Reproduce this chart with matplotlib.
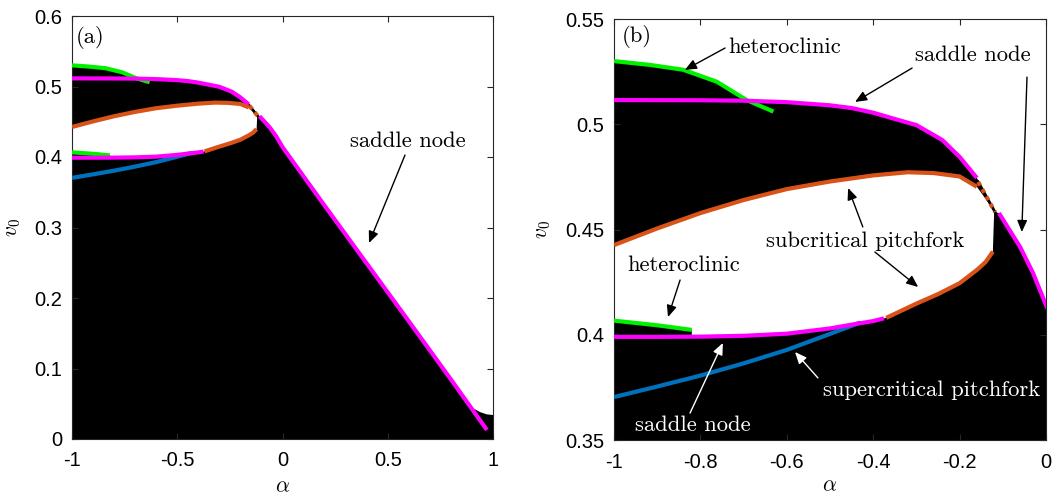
import numpy as np
import matplotlib
matplotlib.use("Agg")
import matplotlib.pyplot as plt

plt.rcParams['mathtext.fontset'] = 'cm'
plt.rcParams['font.family'] = ['Liberation Sans', 'DejaVu Sans']

# ---------------- data ----------------
green_top_x = [-1.0, -0.917, -0.84, -0.762, -0.693, -0.631]
green_top_y = [0.5300, 0.5282, 0.5259, 0.5202, 0.5115, 0.5060]

magenta_top_x = [-1.0, -0.8, -0.7, -0.6, -0.5, -0.45, -0.4, -0.35, -0.3, -0.24, -0.2, -0.16]
magenta_top_y = [0.5115, 0.5114, 0.5112, 0.5105, 0.5090, 0.5077, 0.5055, 0.5025, 0.4996, 0.4925, 0.4845, 0.4745]

orange_up_x = [-1.0, -0.9, -0.8, -0.7, -0.6, -0.5, -0.4, -0.32, -0.26, -0.2, -0.16]
orange_up_y = [0.4426, 0.4505, 0.4578, 0.4640, 0.4692, 0.4728, 0.4757, 0.4772, 0.4768, 0.4752, 0.4703]

dotted_x = [-0.157, -0.118]
dotted_y = [0.4726, 0.4583]

orange_low_x = [-0.37, -0.3, -0.25, -0.2, -0.16, -0.14, -0.123]
orange_low_y = [0.4080, 0.4148, 0.4193, 0.4245, 0.4308, 0.4345, 0.4395]

magenta_low_x = [-1.0, -0.9, -0.8, -0.7, -0.6, -0.5, -0.45, -0.4, -0.375]
magenta_low_y = [0.3990, 0.3990, 0.3991, 0.3995, 0.4005, 0.4030, 0.4048, 0.4065, 0.4078]

blue_x = [-1.0, -0.9, -0.8, -0.7, -0.6, -0.5, -0.43]
blue_y = [0.3704, 0.3754, 0.3806, 0.3864, 0.3928, 0.4004, 0.4058]

green_low_x = [-1.0, -0.9, -0.82]
green_low_y = [0.4067, 0.4045, 0.4023]

magenta_right_x = [-0.109, -0.06, -0.03, 0.0, 0.2, 0.4, 0.6, 0.8, 0.971]
magenta_right_y = [0.4578, 0.4417, 0.4293, 0.4141, 0.3310, 0.2490, 0.1670, 0.0845, 0.0128]

cap_x = [0.89, 0.94, 0.97, 1.0]
cap_y = [0.046, 0.038, 0.035, 0.034]

# tick labels
a_xticks = [-1, -0.5, 0, 0.5, 1]
a_xlabels = ['-1', '-0.5', '0', '0.5', '1']
a_yticks = [0, 0.1, 0.2, 0.3, 0.4, 0.5, 0.6]
a_ylabels = ['0', '0.1', '0.2', '0.3', '0.4', '0.5', '0.6']
b_xticks = [-1, -0.8, -0.6, -0.4, -0.2, 0]
b_xlabels = ['-1', '-0.8', '-0.6', '-0.4', '-0.2', '0']
b_yticks = [0.35, 0.4, 0.45, 0.5, 0.55]
b_ylabels = ['0.35', '0.4', '0.45', '0.5', '0.55']

MAG = '#FF00FF'
GRN = '#00F000'
ORG = '#D95319'
BLU = '#0072BD'
LW = 3.0

# ---------------- build black regions ----------------
xs = np.linspace(-1.0, -0.16, 300)
upper = np.maximum(np.interp(xs, green_top_x, green_top_y, right=-1.0),
                   np.interp(xs, magenta_top_x, magenta_top_y))
top_poly_x = np.concatenate([xs, dotted_x[1:], orange_up_x[::-1]])
top_poly_y = np.concatenate([upper, dotted_y[1:], orange_up_y[::-1]])

mlx = np.array(magenta_low_x); mly = np.array(magenta_low_y)
mrx = np.array(magenta_right_x); mry = np.array(magenta_right_y)
low_poly_x = np.concatenate([[-1.0], green_low_x,
                             [-0.82], mlx[mlx > -0.82],
                             orange_low_x, [-0.12],
                             mrx[mrx < 0.89], cap_x, [1.0, -1.0]])
low_poly_y = np.concatenate([[0.0], green_low_y,
                             [np.interp(-0.82, mlx, mly)], mly[mlx > -0.82],
                             orange_low_y, [0.4583],
                             mry[mrx < 0.89], cap_y, [0.0, 0.0]])

fig = plt.figure(figsize=(10.53, 4.97), dpi=100)
ax1 = fig.add_axes([72/1053, 1-439/497, 421/1053, 423/497])
ax2 = fig.add_axes([614/1053, 1-440/497, 432/1053, 421/497])


def draw(ax):
    ax.fill(top_poly_x, top_poly_y, color='black', lw=0, zorder=1)
    ax.fill(low_poly_x, low_poly_y, color='black', lw=0, zorder=1)
    ax.plot(green_top_x, green_top_y, color=GRN, lw=LW, zorder=3, solid_capstyle='butt')
    ax.plot(magenta_top_x, magenta_top_y, color=MAG, lw=LW, zorder=3, solid_capstyle='butt')
    ax.plot(orange_up_x, orange_up_y, color=ORG, lw=LW, zorder=3, solid_capstyle='butt')
    ax.plot(dotted_x, dotted_y, color='black', lw=2, zorder=2)
    ax.plot(dotted_x, dotted_y, color=ORG, lw=LW, ls=(0, (1, 1)), zorder=3)
    ax.plot(orange_low_x, orange_low_y, color=ORG, lw=LW, zorder=3, solid_capstyle='butt')
    ax.plot(blue_x, blue_y, color=BLU, lw=LW, zorder=3, solid_capstyle='butt')
    ax.plot(magenta_low_x, magenta_low_y, color=MAG, lw=LW, zorder=4, solid_capstyle='butt')
    ax.plot(green_low_x, green_low_y, color=GRN, lw=LW, zorder=3, solid_capstyle='butt')
    ax.plot(magenta_right_x, magenta_right_y, color=MAG, lw=LW, zorder=3, solid_capstyle='butt')
    ax.tick_params(direction='in', top=True, right=True, length=4, width=0.8,
                   labelsize=14.5, colors='#262626', labelcolor='black')
    ax.tick_params(axis='x', pad=9)
    ax.tick_params(axis='y', pad=7)
    for s in ax.spines.values():
        s.set_color('#262626')
        s.set_linewidth(0.8)


draw(ax1)
draw(ax2)

ax1.set_xlim(-1, 1); ax1.set_ylim(0, 0.6)
ax1.set_xticks(a_xticks); ax1.set_xticklabels(a_xlabels)
ax1.set_yticks(a_yticks); ax1.set_yticklabels(a_ylabels)
ax2.set_xlim(-1, 0); ax2.set_ylim(0.35, 0.55)
ax2.set_xticks(b_xticks); ax2.set_xticklabels(b_xlabels)
ax2.set_yticks(b_yticks); ax2.set_yticklabels(b_ylabels)

for ax, lx, ly in [(ax1, -0.117, 0.5), (ax2, -0.142, 0.5)]:
    ax.set_xlabel(r'$\alpha$', fontsize=15.5)
    ax.set_ylabel(r'$v_0$', fontsize=15.5)
    ax.yaxis.set_label_coords(lx, ly)
ax1.xaxis.set_label_coords(0.5, -0.088)
ax2.xaxis.set_label_coords(0.5, -0.083)

TF = dict(fontfamily='cmr10', fontsize=16.3)


def arrow(ax, tail, tip, color='black'):
    ax.annotate('', xy=tip, xytext=tail, zorder=6,
                arrowprops=dict(arrowstyle='-|>,head_length=0.7,head_width=0.3',
                                color=color, lw=1.0, shrinkA=0, shrinkB=0))


# panel (a)
ax1.text(-0.981, 0.570, '(a)', ha='left', va='center', **TF)
ax1.text(0.596, 0.4227, 'saddle node', ha='center', va='center', **TF)
arrow(ax1, (0.582, 0.4028), (0.411, 0.278))

# panel (b)
ax2.text(-0.981, 0.5415, '(b)', ha='left', va='center', **TF)
ax2.text(-0.604, 0.5367, 'heteroclinic', ha='center', va='center', **TF)
arrow(ax2, (-0.743, 0.5362), (-0.836, 0.5258))
ax2.text(-0.169, 0.5329, 'saddle node', ha='center', va='center', **TF)
arrow(ax2, (-0.310, 0.5267), (-0.442, 0.5106))
arrow(ax2, (-0.044, 0.5224), (-0.056, 0.4488))
ax2.text(-0.419, 0.4445, 'subcritical pitchfork', ha='center', va='center', **TF)
arrow(ax2, (-0.424, 0.4512), (-0.458, 0.4697))
arrow(ax2, (-0.396, 0.4393), (-0.296, 0.4227))
ax2.text(-0.838, 0.4331, 'heteroclinic', ha='center', va='center', **TF)
arrow(ax2, (-0.847, 0.4260), (-0.875, 0.4084))
ax2.text(-0.817, 0.3571, 'saddle node', ha='center', va='center', color='white', **TF)
arrow(ax2, (-0.824, 0.3628), (-0.748, 0.3961), color='white')
ax2.text(-0.264, 0.3738, 'supercritical pitchfork', ha='center', va='center', color='white', **TF)
arrow(ax2, (-0.528, 0.3795), (-0.581, 0.3918), color='white')

fig.savefig('out.png', dpi=100)
